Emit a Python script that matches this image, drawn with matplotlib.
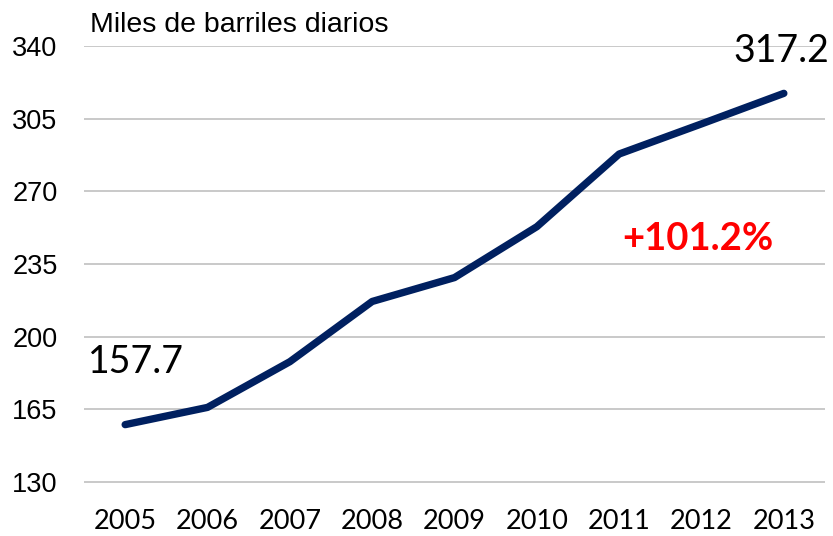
import matplotlib.pyplot as plt

# Produccion (miles de barriles diarios)
years = ['2005', '2006', '2007', '2008', '2009', '2010', '2011', '2012', '2013']
values = [157.7, 166.0, 188.0, 217.0, 228.5, 253.0, 288.0, 302.5, 317.2]
y_ticks = [130, 165, 200, 235, 270, 305, 340]

fig = plt.figure(figsize=(8.33, 5.36), dpi=100)
ax = fig.add_axes([84 / 833, 1 - 483 / 536, (825 - 84) / 833, (483 - 46) / 536])

x = list(range(len(years)))
ax.plot(x, values, color='#002060', linewidth=5.3, solid_capstyle='round', zorder=3)

ax.set_xlim(-0.5, len(years) - 0.5)
ax.set_ylim(129.6, 340)
ax.set_yticks(y_ticks)
ax.set_yticklabels([str(t) for t in y_ticks], fontsize=19.5, family='Liberation Sans')
ax.set_xticks(x)
ax.set_xticklabels(years, fontsize=19.5, family='Lato')
ax.tick_params(length=0, pad=19, axis='x')
ax.tick_params(length=0, pad=19, axis='y')

ax.grid(axis='y', color='#c0c0c0', linewidth=1.2)
ax.set_axisbelow(True)
for s in ax.spines.values():
    s.set_visible(False)

ax.text(-0.43, 344, 'Miles de barriles diarios', fontsize=20.5, family='Liberation Sans',
        ha='left', va='bottom')
ax.text(0.13, 188, f'{values[0]:.1f}', fontsize=27, family='Lato', ha='center', va='center')
ax.text(7.97, 337.5, f'{values[-1]:.1f}', fontsize=27, family='Lato', ha='center', va='center')
ax.text(6.96, 247, '+101.2%', fontsize=27.5, family='Lato', weight='bold',
        color='#ff0000', ha='center', va='center')

fig.savefig('out.png', dpi=100)
